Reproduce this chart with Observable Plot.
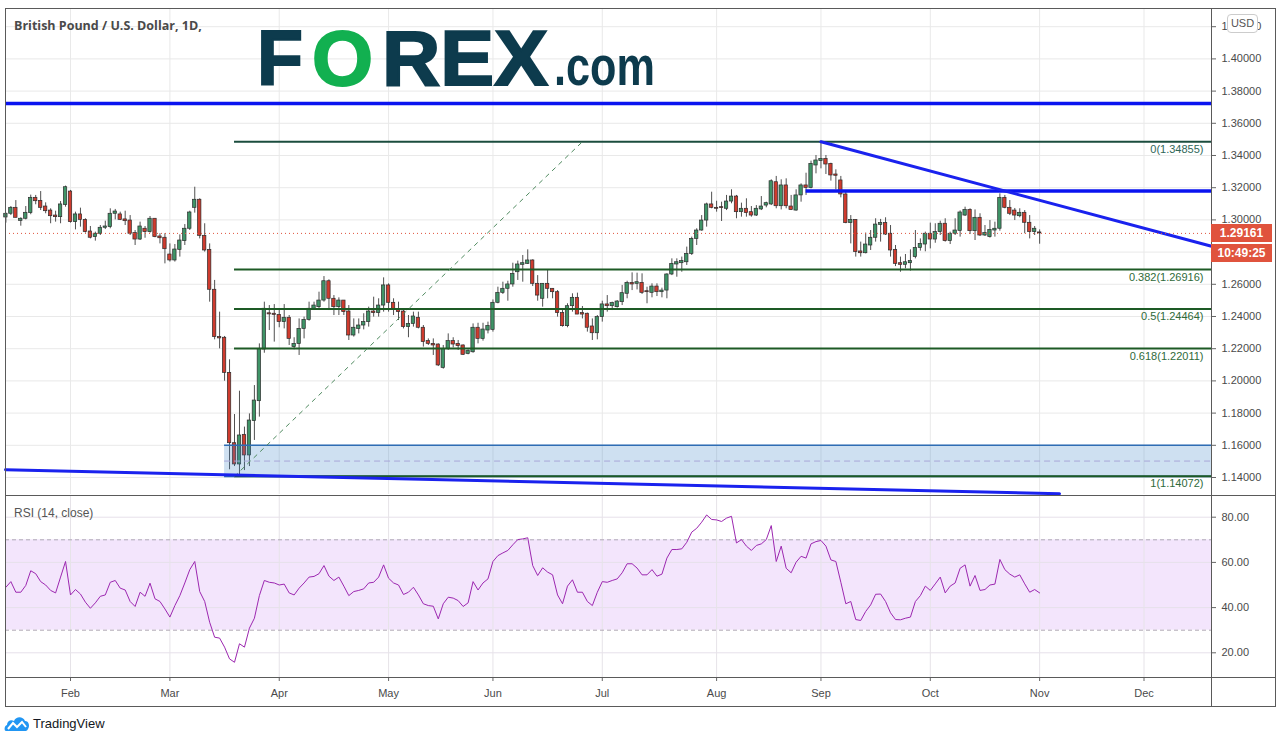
<!DOCTYPE html>
<html><head><meta charset="utf-8">
<script src="https://cdn.jsdelivr.net/npm/d3@7"></script>
<script src="https://cdn.jsdelivr.net/npm/@observablehq/plot@0.6"></script>
<style>
body{margin:0;background:#fff;font-family:"Liberation Sans",Arial,sans-serif;}
#wrap{position:relative;width:1282px;height:743px;overflow:hidden;background:#fff;}
#wrap > *{position:absolute;}
.hl{background:#5a5a5a;}
</style></head><body><div id="wrap"></div>
<script>
// ---------- DATA (GBP/USD daily, Jan 15 2020 – Nov 2 2020) ----------
const firstDay = "2020-01-15";
const open = [
1.3015,1.3038,1.3075,1.2994,1.3007,1.3042,1.3137,1.3118,1.3083,1.3058,1.3027,1.3017,1.3092,
1.3176,1.2986,1.3034,1.3000,1.2928,1.2893,1.2914,1.2951,1.2955,1.3038,1.3034,1.3003,1.2996,1.2918,1.2878,1.2945,1.2924,1.3007,1.2897,1.2889,
1.2785,1.2748,1.2814,1.2868,1.2945,1.3075,1.3125,1.2901,1.2814,1.2566,1.2272,1.2268,1.2050,1.1613,1.1481,1.1665,1.1537,1.1750,1.1874,1.2195,1.2420,1.2417,
1.2410,1.2365,1.2392,1.2210,1.2230,1.2323,1.2379,1.2448,1.2458,1.2499,1.2619,1.2510,1.2458,1.2499,1.2431,1.2282,1.2323,1.2344,1.2365,1.2431,1.2421,1.2468,
1.2593,1.2485,1.2441,1.2431,1.2334,1.2354,1.2392,1.2330,1.2247,1.2230,1.2226,1.2081,1.2199,1.2247,1.2230,1.2220,1.2168,1.2178,1.2330,1.2261,1.2313,
1.2317,1.2485,1.2547,1.2572,1.2599,1.2675,1.2721,1.2727,1.2748,1.2603,1.2510,1.2603,1.2572,1.2551,1.2421,1.2340,1.2464,1.2516,1.2421,1.2417,1.2338,1.2296,
1.2396,1.2475,1.2464,1.2458,1.2489,1.2541,1.2609,1.2603,1.2609,1.2557,1.2547,1.2586,1.2551,1.2561,1.2661,1.2723,1.2731,1.2737,1.2789,1.2882,1.2934,1.2996,1.3096,
1.3075,1.3079,1.3069,1.3114,1.3145,1.3048,1.3069,1.3048,1.3027,1.3065,1.3089,1.3096,1.3234,1.3085,1.3214,1.3083,1.3058,1.3152,1.3214,1.3199,1.3338,
1.3365,1.3379,1.3348,1.3282,1.3245,1.3158,1.2980,1.3000,1.2804,1.2793,1.2841,1.2889,1.2969,1.2980,1.2914,1.2814,1.2731,1.2721,1.2731,1.2769,1.2826,1.2847,
1.2914,1.2878,1.2924,1.2976,1.2868,1.2914,1.2932,1.3027,1.3062,1.2930,1.3013,1.2903,1.2893,1.2934,1.2945,1.3137,1.3075,1.3058,1.3023,1.3044,1.2982,1.2924,
1.2922];
const high = [
1.3042,1.3083,1.3120,1.3013,1.3083,1.3154,1.3152,1.3176,1.3106,1.3069,1.3054,1.3114,1.3210,
1.3183,1.3048,1.3073,1.3007,1.2959,1.2924,1.2965,1.2992,1.3069,1.3065,1.3048,1.3054,1.3027,1.2934,1.2986,1.2959,1.3021,1.3007,1.2914,1.2914,
1.2851,1.2847,1.2907,1.2971,1.3054,1.3203,1.3131,1.2976,1.2851,1.2624,1.2427,1.2276,1.2131,1.1791,1.1936,1.1713,1.1795,1.1971,1.2230,1.2489,1.2468,1.2474,
1.2437,1.2474,1.2406,1.2268,1.2385,1.2396,1.2489,1.2489,1.2551,1.2648,1.2628,1.2530,1.2516,1.2499,1.2468,1.2385,1.2385,1.2417,1.2458,1.2520,1.2510,1.2640,
1.2603,1.2510,1.2489,1.2448,1.2406,1.2427,1.2427,1.2344,1.2261,1.2261,1.2230,1.2220,1.2292,1.2268,1.2251,1.2224,1.2193,1.2354,1.2358,1.2358,1.2365,
1.2503,1.2582,1.2613,1.2619,1.2731,1.2744,1.2779,1.2814,1.2752,1.2654,1.2603,1.2686,1.2572,1.2561,1.2448,1.2479,1.2541,1.2545,1.2462,1.2421,1.2385,1.2406,
1.2495,1.2530,1.2489,1.2499,1.2593,1.2619,1.2671,1.2669,1.2665,1.2582,1.2603,1.2603,1.2576,1.2665,1.2758,1.2758,1.2769,1.2831,1.2893,1.2945,1.3027,1.3104,1.3172,
1.3116,1.3110,1.3152,1.3187,1.3152,1.3104,1.3131,1.3083,1.3089,1.3145,1.3110,1.3249,1.3270,1.3249,1.3255,1.3152,1.3187,1.3224,1.3290,1.3365,1.3400,
1.34855,1.3400,1.3352,1.3311,1.3270,1.3172,1.3027,1.3000,1.2862,1.2918,1.2934,1.3007,1.3003,1.3013,1.2965,1.2841,1.2769,1.2785,1.2814,1.2934,1.2882,1.2924,
1.2980,1.2976,1.2992,1.3007,1.2924,1.3007,1.3056,1.3079,1.3069,1.3062,1.3038,1.2965,1.2996,1.2986,1.3162,1.3152,1.3120,1.3071,1.3069,1.3058,1.3027,1.2959,
1.2938];
const low = [
1.2980,1.3027,1.3013,1.2961,1.3000,1.3032,1.3094,1.3058,1.3038,1.2976,1.2986,1.2976,1.3079,
1.2980,1.2938,1.2955,1.2918,1.2882,1.2868,1.2903,1.2940,1.2945,1.3000,1.2996,1.2965,1.2903,1.2841,1.2872,1.2886,1.2918,1.2889,1.2851,1.2727,
1.2738,1.2738,1.2769,1.2841,1.2934,1.3042,1.2882,1.2800,1.2489,1.2255,1.2199,1.1998,1.1448,1.1468,1.1407,1.1443,1.1468,1.1630,1.1775,1.2172,1.2313,1.2241,
1.2330,1.2323,1.2220,1.2193,1.2158,1.2261,1.2371,1.2437,1.2437,1.2489,1.2437,1.2406,1.2406,1.2406,1.2251,1.2272,1.2292,1.2317,1.2334,1.2396,1.2396,1.2427,
1.2427,1.2406,1.2375,1.2323,1.2268,1.2334,1.2323,1.2210,1.2220,1.2158,1.2089,1.2073,1.2189,1.2205,1.2189,1.2158,1.2162,1.2172,1.2230,1.2247,1.2292,
1.2303,1.2479,1.2537,1.2495,1.2582,1.2624,1.2613,1.2723,1.2586,1.2495,1.2458,1.2510,1.2510,1.2396,1.2334,1.2330,1.2427,1.2412,1.2385,1.2303,1.2251,1.2255,
1.2365,1.2427,1.2437,1.2452,1.2468,1.2510,1.2561,1.2565,1.2537,1.2479,1.2516,1.2524,1.2516,1.2510,1.2654,1.2644,1.2675,1.2717,1.2779,1.2841,1.2930,1.2955,1.3069,
1.3048,1.2990,1.3058,1.3100,1.3007,1.3017,1.3017,1.3017,1.3021,1.3058,1.3075,1.3089,1.3069,1.3062,1.3069,1.3058,1.3054,1.3110,1.3152,1.3193,1.3286,
1.3317,1.3282,1.3241,1.3187,1.3137,1.2976,1.2851,1.2769,1.2769,1.2789,1.2810,1.2862,1.2862,1.2903,1.2769,1.2710,1.2675,1.2696,1.2682,1.2758,1.2806,1.2802,
1.2820,1.2855,1.2903,1.2862,1.2847,1.2903,1.2893,1.3021,1.2909,1.2872,1.2897,1.2897,1.2887,1.2893,1.2930,1.3069,1.3027,1.2996,1.3013,1.2914,1.2882,1.2903,
1.2849];
const close = [
1.3038,1.3075,1.3013,1.3007,1.3044,1.3137,1.3116,1.3075,1.3054,1.3023,1.3017,1.3096,1.3203,
1.2986,1.3034,1.3000,1.2924,1.2889,1.2914,1.2951,1.2959,1.3038,1.3052,1.3000,1.2992,1.2914,1.2878,1.2959,1.2924,1.3007,1.2893,1.2886,1.2818,
1.2748,1.2816,1.2872,1.2945,1.3046,1.3125,1.2901,1.2810,1.2566,1.2272,1.2264,1.2050,1.1613,1.1481,1.1661,1.1537,1.1754,1.1878,1.2199,1.2448,1.2413,1.2410,
1.2365,1.2392,1.2261,1.2230,1.2323,1.2379,1.2448,1.2468,1.2499,1.2619,1.2510,1.2458,1.2499,1.2427,1.2282,1.2330,1.2344,1.2365,1.2431,1.2421,1.2468,1.2593,
1.2485,1.2441,1.2427,1.2334,1.2354,1.2400,1.2330,1.2241,1.2230,1.2220,1.2096,1.2199,1.2247,1.2226,1.2216,1.2162,1.2185,1.2330,1.2261,1.2319,1.2341,
1.2485,1.2547,1.2572,1.2599,1.2665,1.2723,1.2731,1.2748,1.2603,1.2530,1.2603,1.2572,1.2551,1.2421,1.2340,1.2464,1.2516,1.2412,1.2412,1.2330,1.2296,1.2396,
1.2475,1.2464,1.2483,1.2493,1.2545,1.2609,1.2599,1.2613,1.2547,1.2551,1.2586,1.2551,1.2561,1.2661,1.2727,1.2737,1.2744,1.2789,1.2882,1.2934,1.2996,1.3096,1.3075,
1.3069,1.3073,1.3114,1.3145,1.3048,1.3069,1.3042,1.3027,1.3069,1.3083,1.3104,1.3240,1.3085,1.3214,1.3085,1.3062,1.3152,1.3214,1.3199,1.3348,1.3369,
1.3379,1.3344,1.3276,1.3274,1.3158,1.2980,1.3000,1.2800,1.2793,1.2847,1.2889,1.2971,1.2980,1.2909,1.2810,1.2727,1.2721,1.2737,1.2744,1.2826,1.2851,1.2914,
1.2878,1.2924,1.2976,1.2868,1.2914,1.2934,1.3046,1.3062,1.2930,1.3013,1.2903,1.2918,1.2938,1.2945,1.3137,1.3075,1.3038,1.3027,1.3044,1.2982,1.2924,1.2945,
1.29161];
const rsi = [
49,51.5,46.8,46.8,49.8,56.3,55,51.5,50,47.6,
46.5,53.5,60.4,45.6,48,46,42.4,39.7,42.1,45,
45.6,51.2,52,48.6,47.8,42.7,40.5,46.8,45,50.8,
43.9,42.7,39.4,35.8,40.9,45.3,50.9,56.8,60.4,47.1,
42.7,33.5,26.9,26.5,22.5,17.3,15.8,24,22.5,30.9,
35.3,45.3,52,51.2,50.9,50,50.4,46.5,45.6,48.6,
50.9,53.5,53.8,55,58.6,53.9,52,53.5,49.5,45.3,
47.1,47.6,48.3,50.9,51.2,53.5,58.9,53,50.9,50,
45.8,46.8,49,45.6,41.7,40.9,40.6,35,41.7,44.6,
44.2,43.1,40.5,42.1,51.5,47.8,50.9,52.7,60.4,63,
64.2,65.3,67.8,70.1,70.4,70.9,58.6,54.2,57.6,55.7,
54.5,45.6,41.7,49.5,52.3,46.8,46.8,42.7,40.9,46.8,
51.5,51.2,52,52.7,55.4,59.4,59.4,57.5,
54.5,54.5,56.8,53.9,54.8,61.9,65.7,65.7,66,68.9,
73.4,75.1,77.8,81,79,78.8,78.1,79.6,80.4,68.6,
70.1,67.2,65.3,67.5,68.2,70.1,76.3,60.4,67.2,57.4,
55.4,60.1,62.7,61.9,68.2,69.2,69.7,67.2,61.1,60.4,
51.2,41.7,42.7,34.7,34.3,38.3,41.2,45.9,46,42.7,
37.7,34.7,34.6,35.3,35.8,42.7,45.3,49.5,47.6,50.5,
53.5,46.5,49.5,50.9,57.4,58.9,49.5,54.2,47.6,48,
50,50.4,61.3,56.8,54.8,53.5,54.5,50.5,46.8,48,
46.5];
const monthLabels = ["Feb","Mar","Apr","May","Jun","Jul","Aug","Sep","Oct","Nov","Dec"];
const priceGrid = [1.14,1.16,1.18,1.20,1.22,1.24,1.26,1.28,1.30,1.32,1.34,1.36,1.38,1.40,1.42];
const priceLabels = [1.14,1.16,1.18,1.20,1.22,1.24,1.26,1.30,1.32,1.34,1.36,1.38,1.40,1.42];
const rsiTicks = [20,40,60,80];
const fibLevels = [{level:"0",price:1.34855},{level:"0.382",price:1.26916},{level:"0.5",price:1.24464},{level:"0.618",price:1.22011},{level:"1",price:1.14072}];
// drawings (dates and prices)
const fibStartDay = "2020-03-19", fibEndDay = "2020-06-25";
const zoneStartDay = "2020-03-17", zoneTop = 1.16, zoneMid = 1.1502, zoneBottom = 1.14072;
const resistDay = "2020-08-27", resistPrice = 1.3180;
const topLinePrice = 1.3723;
const downTrend = [{day:"2020-09-01", price:1.34855},{day:"edge", price:1.2836}];
const lowTrend = [{day:"start", price:1.1448},{day:"2020-11-06", price:1.1299}];
const lastPrice = 1.29161, timerText = "10:49:25";

// ---------- build ----------
const wrap = document.getElementById("wrap");
const parse = d3.utcParse("%Y-%m-%d");
const days = d3.utcDay.range(parse(firstDay), parse("2021-01-01")).filter(d => d.getUTCDay() > 0 && d.getUTCDay() < 6);
const fmt = d3.utcFormat("%Y-%m-%d");
const idx = s => days.findIndex(d => fmt(d) === s);
const monthTicks = monthLabels.map((m, j) => days.findIndex(d => d.getUTCMonth() === j + 1));
const xDomain = [-0.08, 242.58];
const X0 = xDomain[0], X1 = xDomain[1];
const pt = p => p.day === "edge" ? X1 : p.day === "start" ? X0 : idx(p.day);

const bars = close.map((c, k) => ({k, o: open[k], h: high[k], l: low[k], c}));
const up = "#3f9467", down = "#cf3b2e";
const font = "'Liberation Sans', Arial, sans-serif";

const main = Plot.plot({
  width: 1282, height: 495,
  marginLeft: 5, marginRight: 71, marginTop: 8, marginBottom: 1,
  style: {fontFamily: font, fontSize: "11px", color: "#4a4a4a", background: "transparent", overflow: "visible"},
  x: {domain: xDomain, axis: null},
  y: {domain: [1.12944, 1.43130], axis: null},
  marks: [
    Plot.ruleY(priceGrid, {stroke: "#e9e9e9"}),
    Plot.ruleX(monthTicks, {stroke: "#e9e9e9"}),
    Plot.axisY({anchor: "right", label: null, ticks: priceLabels, tickFormat: d3.format(".5f"), tickSize: 4, tickPadding: 6, fill: "#4a4a4a", stroke: "#666", fontSize: 11}),
    // candles
    Plot.ruleX(bars, {x: "k", y1: "l", y2: "h", stroke: "#505050", strokeWidth: 1}),
    Plot.rect(bars, {x1: d => d.k - 0.34, x2: d => d.k + 0.34, y1: "o", y2: "c", fill: d => d.c >= d.o ? up : down, stroke: "#2c2c2c", strokeWidth: 0.7}),
    // zone box
    Plot.rect([{}], {x1: () => idx(zoneStartDay), x2: () => X1, y1: () => zoneBottom, y2: () => zoneTop, fill: "#3d85c6", fillOpacity: 0.25}),
    Plot.ruleY([zoneMid], {x1: idx(zoneStartDay), x2: X1, stroke: "#a9a6d8", strokeDasharray: "6,4"}),
    Plot.ruleY([zoneTop, zoneBottom], {x1: idx(zoneStartDay), x2: X1, stroke: "#2e6db4", strokeWidth: 1.6}),
    // fib
    Plot.ruleY(fibLevels, {y: "price", x1: idx(fibStartDay), x2: X1, stroke: d => d.level === "0" ? "#1b4d3e" : "#1d5a25", strokeWidth: 2}),
    Plot.line([{k: idx(fibStartDay), p: fibLevels[4].price}, {k: idx(fibEndDay), p: fibLevels[0].price}], {x: "k", y: "p", stroke: "#4f8a5f", strokeWidth: 1, strokeDasharray: "4,5"}),
    Plot.text(fibLevels, {x: () => X1, y: "price", text: d => `${d.level}(${d.price.toFixed(5)})`, textAnchor: "end", dx: -8, dy: 7.5, fill: d => d.level === "0" ? "#2f6658" : "#2f6a3a", fontSize: 11}),
    // blue lines
    Plot.ruleY([topLinePrice], {stroke: "#0a14f0", strokeWidth: 3.5}),
    Plot.ruleY([resistPrice], {x1: idx(resistDay), x2: X1, stroke: "#0a14f0", strokeWidth: 3.5}),
    Plot.line(downTrend, {x: pt, y: "price", stroke: "#1a22ee", strokeWidth: 3}),
    Plot.line(lowTrend, {x: pt, y: "price", stroke: "#1a22ee", strokeWidth: 3}),
    // last price
    Plot.ruleY([lastPrice], {stroke: "#e0533d", strokeDasharray: "1,3", strokeWidth: 1})
  ]
});
main.style.left = "0px"; main.style.top = "0px";
wrap.appendChild(main);

const rsiPlot = Plot.plot({
  width: 1282, height: 211,
  marginLeft: 5, marginRight: 71, marginTop: 1, marginBottom: 29,
  style: {fontFamily: font, fontSize: "11px", color: "#4a4a4a", background: "transparent", overflow: "visible"},
  x: {domain: xDomain, axis: null},
  y: {domain: [9.07, 89.16], axis: null},
  marks: [
    Plot.rect([{}], {x1: () => X0, x2: () => X1, y1: () => 30, y2: () => 70, fill: "#f3e5fc"}),
    Plot.ruleY(rsiTicks, {stroke: "#e6e0ea"}),
    Plot.ruleX(monthTicks, {stroke: "#e6e3e8"}),
    Plot.ruleY([30, 70], {stroke: "#b0a8b4", strokeDasharray: "4,3"}),
    Plot.line(rsi.map((v, k) => ({k, v})), {x: "k", y: "v", stroke: "#9c27b0", strokeWidth: 1}),
    Plot.axisY({anchor: "right", label: null, ticks: rsiTicks, tickFormat: d3.format(".2f"), tickSize: 4, tickPadding: 6, fill: "#4a4a4a", stroke: "#666", fontSize: 11}),
    Plot.axisX({anchor: "bottom", label: null, ticks: monthTicks, tickFormat: (k) => monthLabels[monthTicks.indexOf(k)], tickSize: 4, tickPadding: 8, fill: "#4a4a4a", stroke: "#666", fontSize: 11})
  ]
});
rsiPlot.style.left = "0px"; rsiPlot.style.top = "495px";
wrap.appendChild(rsiPlot);

// ---------- frame lines ----------
function line(l, t, w, h) { const d = document.createElement("div"); d.className = "hl"; Object.assign(d.style, {left: l + "px", top: t + "px", width: w + "px", height: h + "px"}); wrap.appendChild(d); }
line(5, 8, 1271, 1);    // top
line(5, 706, 1271, 1);  // bottom
line(5, 8, 1, 699);     // left
line(1275, 8, 1, 699);  // right
line(1211, 8, 1, 699);  // axis separator
line(5, 495, 1271, 1);  // pane separator
line(5, 677, 1271, 1);  // time axis line

// ---------- html overlays ----------
function add(html) { const t = document.createElement("div"); t.innerHTML = html; const el = t.firstElementChild; wrap.appendChild(el); return el; }
add(`<div style="left:14px;top:17px;font:bold 12.5px 'Open Sans',sans-serif;color:#4a4a4a;white-space:nowrap">British Pound / U.S. Dollar, 1D,</div>`);
add(`<div style="left:14px;top:506px;font:12px 'Liberation Sans',sans-serif;color:#555;white-space:nowrap">RSI (14, close)</div>`);
const yLast = main.scale("y").apply(lastPrice);
add(`<div style="left:1211px;top:${yLast - 9}px;width:61px;height:18px;background:#e0533d;color:#fff;font:bold 12px 'Liberation Sans',sans-serif;line-height:18px;text-align:center">${lastPrice.toFixed(5)}</div>`);
add(`<div style="left:1211px;top:${yLast + 11}px;width:61px;height:18px;background:#e0533d;color:#fff;font:bold 12px 'Liberation Sans',sans-serif;line-height:18px;text-align:center">${timerText}</div>`);
add(`<div style="left:1227px;top:14px;width:31px;height:19px;box-sizing:border-box;background:#fff;border:1px solid #ccc;border-radius:4px;color:#555;font:11px 'Liberation Sans',sans-serif;line-height:17px;text-align:center">USD</div>`);
add(`<svg style="left:0;top:0;overflow:visible" width="720" height="130">
 <text x="257" y="85" font-family="Liberation Sans" font-weight="bold" font-size="78" fill="#0d3b4d" stroke="#0d3b4d" stroke-width="2" textLength="46" lengthAdjust="spacingAndGlyphs">F</text>
 <text x="312" y="85" font-family="Liberation Sans" font-weight="bold" font-size="78" fill="#12b050" stroke="#12b050" stroke-width="2" textLength="61" lengthAdjust="spacingAndGlyphs">O</text>
 <text x="382" y="85" font-family="Liberation Sans" font-weight="bold" font-size="78" fill="#0d3b4d" stroke="#0d3b4d" stroke-width="2" textLength="166" lengthAdjust="spacingAndGlyphs">REX</text>
 <text x="554" y="85" font-family="Liberation Sans" font-weight="bold" font-size="56" fill="#0d3b4d" textLength="101" lengthAdjust="spacingAndGlyphs">.com</text>
</svg>`);
add(`<svg style="left:4px;top:714px" width="26" height="20" viewBox="0 0 26 20">
 <path d="M2 17 C0 17 0 12 3 11 C3 7 7 5 10 7 C12 2 19 2 21 7 C25 7 26 12 24 15 C23 17 22 17 21 17 Z" fill="#2196f3"/>
 <path d="M4 15 L9 9 L13 13 L18 8 L22 13" fill="none" stroke="#fff" stroke-width="2"/>
</svg>`);
add(`<div style="left:33px;top:716px;font:13px 'Liberation Sans',sans-serif;color:#131722;white-space:nowrap">TradingView</div>`);
</script>
</body></html>
